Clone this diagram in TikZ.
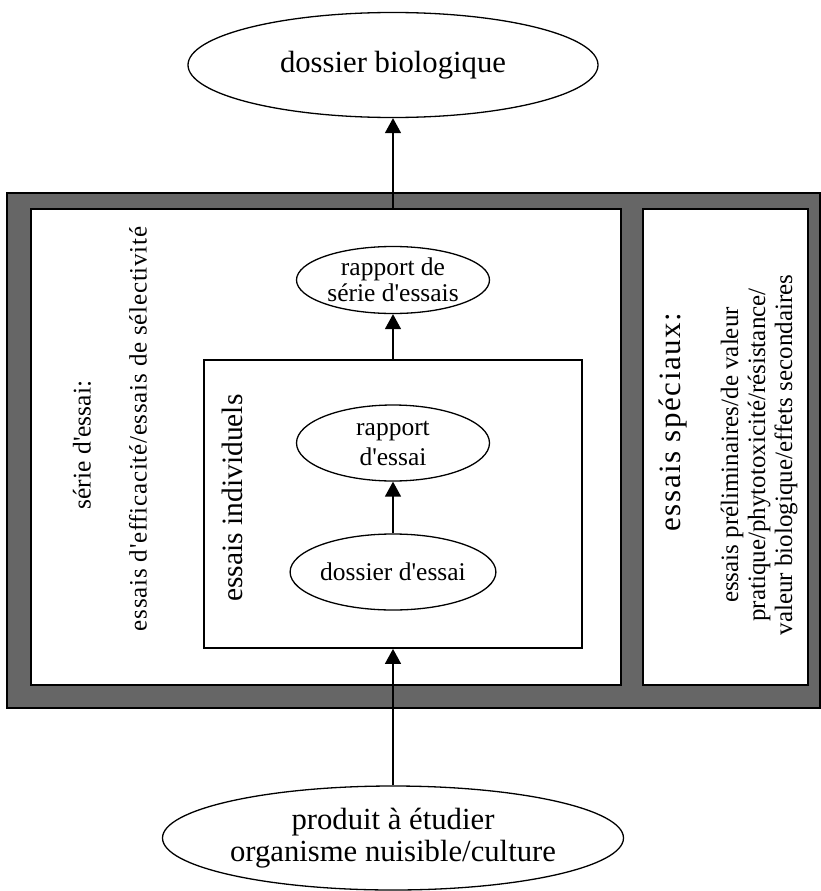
\documentclass[tikz,border=0pt]{standalone}
\usepackage{fontspec}
\setmainfont{Liberation Serif}[Ligatures=TeXOff]
\usetikzlibrary{shapes.geometric,arrows.meta}

\definecolor{framegray}{HTML}{666666}
\tikzset{
  blob/.style={ellipse, draw, line width=1.3pt, fill=white, inner sep=0pt, align=center},
  panel/.style={draw, line width=1.8pt, fill=white, inner sep=0pt},
  link/.style={line width=1.5pt, -{Triangle[length=15pt,width=16pt]}},
  bigtxt/.style={font=\fontsize{30.7}{32}\selectfont},
  midtxt/.style={font=\fontsize{25.5}{26}\selectfont},
  smalltxt/.style={font=\fontsize{25}{27}\selectfont},
}

\begin{document}
\begin{tikzpicture}[x=1pt,y=-1pt]
            \useasboundingbox (0,0) rectangle (821,891);
            % frame and panels
            \node[panel, fill=framegray, minimum width=813pt, minimum height=515pt] (frame) at (413.5,450.5) {};
            \node[panel, minimum width=590pt, minimum height=476pt] (serie) at (326,447) {};
            \node[panel, minimum width=165pt, minimum height=476pt] (speciaux) at (725.5,447) {};
            \node[panel, minimum width=378pt, minimum height=288pt] (indiv) at (393,504) {};

            % ellipses
            \node[blob, bigtxt, minimum width=410pt, minimum height=105pt] (bio) at (393,65) {dossier biologique};
            \node[blob, midtxt, minimum width=193pt, minimum height=67pt] (rapserie) at (393,280) {rapport de\\série d'essais};
            \node[blob, midtxt, minimum width=193pt, minimum height=76pt, font=\fontsize{25.5}{30}\selectfont] (rapessai) at (393,443) {rapport\\d'essai};
            \node[blob, midtxt, minimum width=193pt, minimum height=76pt] (dossessai) at (393,572) {dossier d'essai};
            \node[blob, bigtxt, minimum width=410pt, minimum height=104pt] (produit) at (393,838) {produit à étudier\\organisme nuisible/culture};

            % rotated labels
            \node[rotate=90, midtxt] (serielbl) at (82,445) {série d'essai:};
            \node[rotate=90, smalltxt] (efflbl) at (138,429) {\addfontfeature{LetterSpace=3}essais d'efficacité/essais de sélectivité};
            \node[rotate=90, font=\fontsize{29.5}{30}\selectfont] (indivlbl) at (232,498) {essais individuels};
            \node[rotate=90, font=\fontsize{31}{32}\selectfont] (speclbl) at (673,422) {\addfontfeature{LetterSpace=5}essais spéciaux:};
            \node[rotate=90, smalltxt, align=center] (speclist) at (759,455) {essais préliminaires/de valeur\\pratique/phytotoxicité/résistance/\\valeur biologique/effets secondaires};

            % arrows
            \draw[link] (bio.south |- serie.north) -- (bio.south);
            \draw[link] (indiv.north) -- (rapserie.south);
            \draw[link] (dossessai.north) -- (rapessai.south);
            \draw[link] (produit.north) -- (indiv.south);
\end{tikzpicture}
\end{document}
